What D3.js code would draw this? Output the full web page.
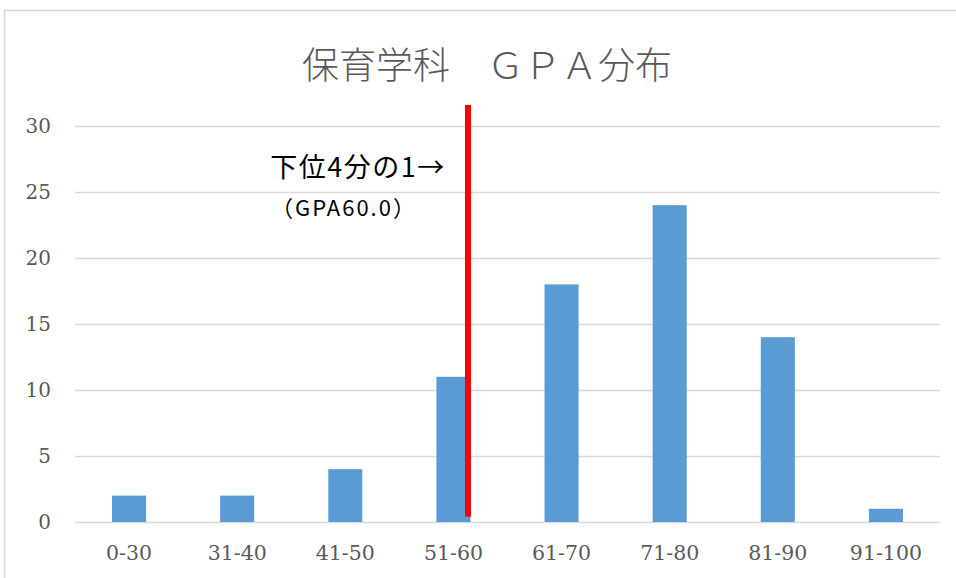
<!DOCTYPE html>
<html>
<head>
<meta charset="utf-8">
<script src="https://cdn.jsdelivr.net/npm/d3@7"></script>
<style>
  html, body { margin: 0; padding: 0; background: #fff; }
  svg { display: block; }
</style>
</head>
<body>
<div id="chart"></div>
<script>
const categories = ["0-30", "31-40", "41-50", "51-60", "61-70", "71-80", "81-90", "91-100"];
const counts = [2, 2, 4, 11, 18, 24, 14, 1];
const yTicks = [0, 5, 10, 15, 20, 25, 30];
const chartTitle = "保育学科　ＧＰＡ分布";
const noteLines = ["下位4分の1→", "（GPA60.0）"];
const cutoffCategory = "51-60";
const cutoffSpan = [0.4, 31.6];  // red line from/to, in count units

function drawChart(containerId) {
  const W = 956, H = 578;
  const margin = { top: 126, right: 16, bottom: 56, left: 75 };

  const svg = d3.select(`#${containerId}`)
      .append("svg")
          .attr("width", W)
          .attr("height", H);

  // chart frame
  svg.append("rect")
      .attr("x", 4.5).attr("y", 10.5)
      .attr("width", W + 20).attr("height", H + 20)
      .attr("fill", "#fff")
      .attr("stroke", "#d9d9d9")
      .attr("stroke-width", 1.5);

  const x = d3.scaleBand()
      .domain(categories)
      .range([margin.left, W - margin.right])
      .paddingInner(0.685)
      .paddingOuter(0.3425);

  const y = d3.scaleLinear()
      .domain([0, 30])
      .range([H - margin.bottom, margin.top]);

  // gridlines
  svg.append("g")
      .selectAll("line")
      .data(yTicks)
      .join("line")
          .attr("x1", margin.left)
          .attr("x2", W - margin.right)
          .attr("y1", d => Math.round(y(d)) + 0.5)
          .attr("y2", d => Math.round(y(d)) + 0.5)
          .attr("stroke", "#d9d9d9")
          .attr("stroke-width", 1.3);

  // y labels
  svg.append("g")
      .selectAll("text")
      .data(yTicks)
      .join("text")
          .attr("x", 51)
          .attr("y", d => y(d))
          .attr("dy", "0.36em")
          .attr("text-anchor", "end")
          .style("font-family", "'DejaVu Serif', serif")
          .style("font-size", "20px")
          .style("fill", "#595959")
          .text(d => d);

  // bars
  svg.append("g")
      .selectAll("rect")
      .data(categories.map((c, i) => ({ c, v: counts[i] })))
      .join("rect")
          .attr("x", d => x(d.c))
          .attr("y", d => y(d.v))
          .attr("width", x.bandwidth())
          .attr("height", d => y(0) - y(d.v))
          .attr("fill", "#5b9bd5");

  // x labels
  svg.append("g")
      .selectAll("text")
      .data(categories)
      .join("text")
          .attr("x", d => x(d) + x.bandwidth() / 2)
          .attr("y", H - margin.bottom + 38)
          .attr("text-anchor", "middle")
          .style("font-family", "'DejaVu Serif', serif")
          .style("font-size", "20.5px")
          .style("fill", "#595959")
          .text(d => d);

  // title
  svg.append("text")
      .attr("x", 487)
      .attr("y", 79)
      .attr("text-anchor", "middle")
      .style("font-family", "'Noto Sans CJK JP', sans-serif")
      .style("font-size", "37px")
      .style("font-weight", 300)
      .style("fill", "#595959")
      .text(chartTitle);

  // cutoff line
  const cx = x(cutoffCategory) + x.bandwidth() - 2.5;
  svg.append("line")
      .attr("x1", cx).attr("x2", cx)
      .attr("y1", y(cutoffSpan[1]))
      .attr("y2", y(cutoffSpan[0]))
      .attr("stroke", "#ff0000")
      .attr("stroke-width", 6);

  // annotation
  svg.append("text")
      .attr("x", cx - 110)
      .attr("y", y(26.1))
      .attr("text-anchor", "middle")
      .style("font-family", "'Noto Sans CJK JP', sans-serif")
      .style("font-size", "27px")
      .style("letter-spacing", "1.5px")
      .style("fill", "#000")
      .text(noteLines[0]);

  svg.append("text")
      .attr("x", cx - 124)
      .attr("y", y(23.2))
      .attr("text-anchor", "middle")
      .style("font-family", "'Noto Sans CJK JP', sans-serif")
      .style("font-size", "22px")
      .style("letter-spacing", "2px")
      .style("fill", "#000")
      .text(noteLines[1]);
}

drawChart("chart");
</script>
</body>
</html>
